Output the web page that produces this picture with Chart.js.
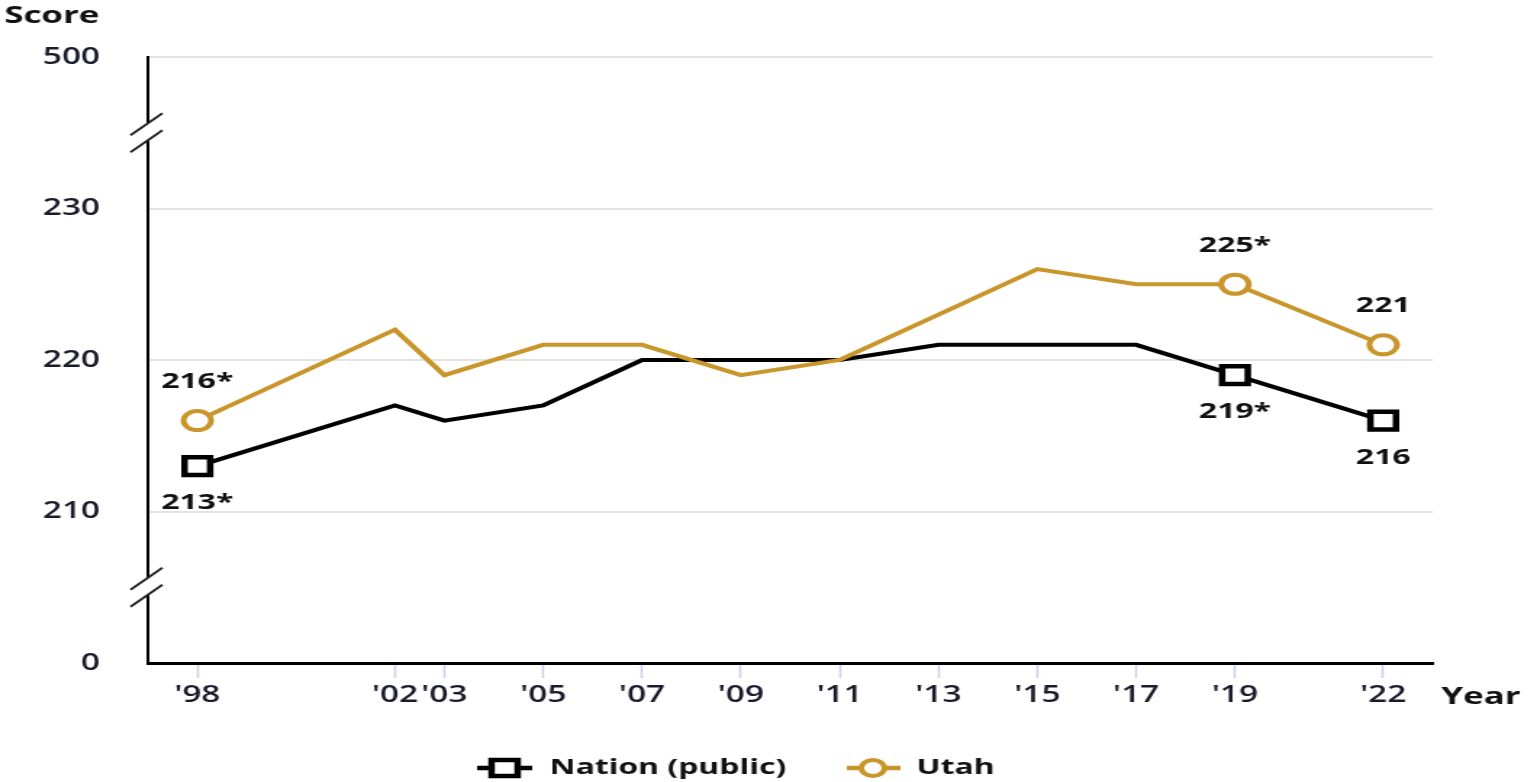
<!DOCTYPE html>
<html>
<head>
<meta charset="utf-8">
<script src="https://cdn.jsdelivr.net/npm/chart.js@4"></script>
<style>
html, body { margin: 0; padding: 0; background: #fff; overflow: hidden; }
#wrap { width: 1056px; height: 782px; transform: scaleX(1.45); transform-origin: 0 0; }
</style>
</head>
<body>
<div id="wrap"><canvas id="chartCanvas" width="1056" height="782"></canvas></div>
<script>
// datos
const years = [1998, 2002, 2003, 2005, 2007, 2009, 2011, 2013, 2015, 2017, 2019, 2022];
const nationScores = [213, 217, 216, 217, 220, 220, 220, 221, 221, 221, 219, 216];
const utahScores = [216, 222, 219, 221, 221, 219, 220, 223, 226, 225, 225, 221];
const nationLabels = ['213*', null, null, null, null, null, null, null, null, null, '219*', '216'];
const utahLabels = ['216*', null, null, null, null, null, null, null, null, null, '225*', '221'];

// eje y cortado: 200 representa 0 y 240 representa 500
const yTickValues = [200, 210, 220, 230, 240];
const yTickLabels = ['0', '210', '220', '230', '500'];
const breakValues = [205, 235];

const GOLD = '#c9962b';
const FONT = '"Open Sans", "DejaVu Sans", sans-serif';

const toPoints = (vals) => vals.map((v, i) => ({ x: years[i], y: v }));
const radiusFrom = (labels, r) => labels.map(l => l ? r : 0);

// etiquetas de valores encima / debajo de los puntos
const etiquetasPlugin = {
    id: 'etiquetas',
    afterDatasetsDraw(chart) {
        const ctx = chart.ctx;
        ctx.save();
        ctx.font = 'bold 22px ' + FONT;
        ctx.fillStyle = '#111';
        ctx.textAlign = 'center';
        ctx.textBaseline = 'middle';
        chart.data.datasets.forEach((ds, di) => {
            const meta = chart.getDatasetMeta(di);
            ds.valueLabels.forEach((txt, i) => {
                if (!txt) return;
                const pt = meta.data[i];
                ctx.fillText(txt, pt.x, pt.y + ds.labelOffset);
            });
        });
        ctx.restore();
    }
};

// cortes del eje, titulos y leyenda
const decoracionPlugin = {
    id: 'decoracion',
    afterDraw(chart) {
        const ctx = chart.ctx;
        const area = chart.chartArea;
        const y = chart.scales.y;
        const x0 = area.left;
        ctx.save();

        breakValues.forEach(v => {
            const yc = y.getPixelForValue(v);
            const c1 = yc - 8.5, c2 = yc + 8.5;
            ctx.fillStyle = '#fff';
            ctx.beginPath();
            ctx.moveTo(x0 - 3, c1 + 2);
            ctx.lineTo(x0 + 3, c1 - 4);
            ctx.lineTo(x0 + 3, c2 - 4);
            ctx.lineTo(x0 - 3, c2 + 2);
            ctx.closePath();
            ctx.fill();
            ctx.strokeStyle = '#222';
            ctx.lineWidth = 1.8;
            [c1, c2].forEach(cy => {
                ctx.beginPath();
                ctx.moveTo(x0 - 12, cy + 11);
                ctx.lineTo(x0 + 10, cy - 11);
                ctx.stroke();
            });
        });

        ctx.fillStyle = '#111';
        ctx.font = 'bold 24px ' + FONT;
        ctx.textBaseline = 'middle';
        ctx.textAlign = 'left';
        ctx.fillText('Score', 3, 16);
        ctx.fillText('Year', area.right + 6, 697);

        // leyenda
        const ly = 768;
        ctx.lineWidth = 4.5;
        ctx.strokeStyle = '#000';
        ctx.beginPath();
        ctx.moveTo(329, ly);
        ctx.lineTo(367, ly);
        ctx.stroke();
        ctx.fillStyle = '#fff';
        ctx.fillRect(339, ly - 8, 18, 16);
        ctx.strokeRect(339, ly - 8, 18, 16);

        ctx.strokeStyle = GOLD;
        ctx.beginPath();
        ctx.moveTo(584, ly);
        ctx.lineTo(621, ly);
        ctx.stroke();
        ctx.lineWidth = 4;
        ctx.beginPath();
        ctx.arc(602, ly, 8, 0, Math.PI * 2);
        ctx.fill();
        ctx.stroke();

        ctx.fillStyle = '#111';
        ctx.font = 'bold 22px ' + FONT;
        ctx.fillText('Nation (public)', 379, ly);
        ctx.fillText('Utah', 632, ly);
        ctx.restore();
    }
};

const ctx = document.getElementById('chartCanvas').getContext('2d');
const chart = new Chart(ctx, {
    type: 'line',
    data: {
        datasets: [{
            label: 'Nation (public)',
            data: toPoints(nationScores),
            valueLabels: nationLabels,
            labelOffset: 37,
            borderColor: '#000',
            borderWidth: 4,
            pointStyle: 'rect',
            pointRadius: radiusFrom(nationLabels, 12.5),
            pointBorderWidth: 4.5,
            pointBorderColor: '#000',
            pointBackgroundColor: '#fff',
            order: 1
        }, {
            label: 'Utah',
            data: toPoints(utahScores),
            valueLabels: utahLabels,
            labelOffset: -39,
            borderColor: GOLD,
            borderWidth: 4,
            pointStyle: 'circle',
            pointRadius: radiusFrom(utahLabels, 9.5),
            pointBorderWidth: 4,
            pointBorderColor: GOLD,
            pointBackgroundColor: '#fff',
            order: 0
        }]
    },
    options: {
        responsive: false,
        animation: false,
        devicePixelRatio: 1,
        tension: 0,
        layout: { padding: { top: 57, right: 68, left: 0, bottom: 0 } },
        plugins: { legend: { display: false }, tooltip: { enabled: false } },
        scales: {
            x: {
                type: 'linear',
                min: 1997,
                max: 2023,
                afterBuildTicks: (scale) => { scale.ticks = years.map(v => ({ value: v })); },
                afterFit: (scale) => { scale.height = 119; },
                ticks: {
                    autoSkip: false,
                    maxRotation: 0,
                    padding: 4,
                    color: '#1a1a2a',
                    font: { family: FONT, size: 23, weight: '600' },
                    callback: (v) => "'" + String(v).slice(2)
                },
                grid: { drawOnChartArea: false, drawTicks: true, tickLength: 15, tickColor: '#c9d3e8', tickWidth: 1.5 },
                border: { color: '#000', width: 3 }
            },
            y: {
                min: 200,
                max: 240,
                afterBuildTicks: (scale) => { scale.ticks = yTickValues.map(v => ({ value: v })); },
                afterFit: (scale) => { scale.width = 102; },
                ticks: {
                    padding: 33,
                    color: '#1a1a2a',
                    font: { family: FONT, size: 23, weight: '600' },
                    callback: (v) => yTickLabels[yTickValues.indexOf(v)]
                },
                grid: { color: '#e3e3e3', lineWidth: 2, drawTicks: false },
                border: { color: '#000', width: 2 }
            }
        }
    },
    plugins: [etiquetasPlugin, decoracionPlugin]
});
</script>
</body>
</html>
